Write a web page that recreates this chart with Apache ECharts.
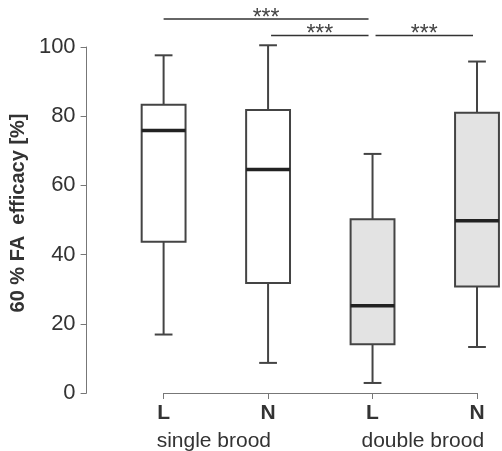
<!DOCTYPE html>
<html><head><meta charset="utf-8">
<script src="https://cdn.jsdelivr.net/npm/echarts@6/dist/echarts.min.js"></script>
<style>html,body{margin:0;padding:0;background:#fff}#c{width:502px;height:451px}</style>
</head><body><div id="c"></div>
<script>
var categories = ['L', 'N', 'L', 'N'];
var groups = ['single brood', 'double brood'];
var whiskerMin = [16.9, 8.7, 2.9, 13.3];
var q1 = [43.7, 31.8, 14.1, 30.8];
var median = [75.9, 64.6, 25.2, 49.8];
var q3 = [83.3, 81.8, 50.2, 81.0];
var whiskerMax = [97.6, 100.5, 69.1, 95.8];
var fills = ['#ffffff', '#ffffff', '#e3e3e3', '#e3e3e3'];
var yTicks = [0, 20, 40, 60, 80, 100];
var sigFrom = [0, 1, 2];
var sigTo = [2, 2, 3];
var sigLevel = [108.1, 103.3, 103.3];
var sigLabel = ['***', '***', '***'];

var chart = echarts.init(document.getElementById('c'));
var data = categories.map(function (c, i) {
  return [i, whiskerMin[i], q1[i], median[i], q3[i], whiskerMax[i]];
});
var stroke = '#444';
function renderItem(params, api) {
  var i = api.value(0);
  var band = api.size([1, 0])[0];
  var bw = band * 0.42, cw = band * 0.17;
  var pMin = api.coord([i, api.value(1)]);
  var pQ1 = api.coord([i, api.value(2)]);
  var pMed = api.coord([i, api.value(3)]);
  var pQ3 = api.coord([i, api.value(4)]);
  var pMax = api.coord([i, api.value(5)]);
  var x = pMed[0];
  var ls = {stroke: stroke, lineWidth: 2, fill: null};
  return {
    type: 'group',
    children: [
      {type: 'line', shape: {x1: x, y1: pQ3[1], x2: x, y2: pMax[1]}, style: ls},
      {type: 'line', shape: {x1: x - cw / 2, y1: pMax[1], x2: x + cw / 2, y2: pMax[1]}, style: ls},
      {type: 'line', shape: {x1: x, y1: pQ1[1], x2: x, y2: pMin[1]}, style: ls},
      {type: 'line', shape: {x1: x - cw / 2, y1: pMin[1], x2: x + cw / 2, y2: pMin[1]}, style: ls},
      {type: 'rect', shape: {x: x - bw / 2, y: pQ3[1], width: bw, height: pQ1[1] - pQ3[1]},
        style: {fill: fills[params.dataIndex], stroke: stroke, lineWidth: 2}},
      {type: 'line', shape: {x1: x - bw / 2, y1: pMed[1], x2: x + bw / 2, y2: pMed[1]},
        style: {stroke: '#222', lineWidth: 3.5}}
    ]
  };
}

chart.setOption({
  animation: false,
  backgroundColor: '#ffffff',
  grid: {left: 161, right: 25, top: 47, bottom: 58, containLabel: false},
  xAxis: {
    type: 'category', data: categories, boundaryGap: false,
    axisLine: {lineStyle: {color: '#777', width: 1}},
    axisTick: {length: 6, lineStyle: {color: '#777'}},
    axisLabel: {color: '#333', fontSize: 21, fontWeight: 'bold', fontFamily: 'Liberation Sans', margin: 10}
  },
  yAxis: {
    type: 'value', min: 0, max: 100, interval: 20, offset: 77,
    name: '60 % FA  efficacy [%]', nameLocation: 'middle', nameGap: 56, nameRotate: 90,
    nameTextStyle: {color: '#333', fontSize: 20, fontWeight: 'bold', fontFamily: 'Liberation Sans',
      padding: [0, 0, 0, 14]},
    axisLine: {show: true, lineStyle: {color: '#777', width: 1}},
    axisTick: {show: true, length: 6, lineStyle: {color: '#777'}},
    splitLine: {show: false},
    axisLabel: {color: '#333', fontSize: 22, fontFamily: 'Liberation Sans', margin: 11,
      formatter: function (v) { return yTicks.indexOf(v) >= 0 ? String(v) : ''; }}
  },
  series: [{type: 'custom', renderItem: renderItem, data: data, clip: false}]
});

var gfx = [];
var pxStart = [0, 3, 3], pxEnd = [-4, -4, -4];
for (var k = 0; k < sigFrom.length; k++) {
  var a = chart.convertToPixel({gridIndex: 0}, [sigFrom[k], sigLevel[k]]);
  var b = chart.convertToPixel({gridIndex: 0}, [sigTo[k], sigLevel[k]]);
  var x1 = a[0] + pxStart[k], x2 = b[0] + pxEnd[k];
  gfx.push({type: 'line', shape: {x1: x1, y1: a[1], x2: x2, y2: a[1]}, style: {stroke: '#333', lineWidth: 1.5}});
  gfx.push({type: 'text', x: (x1 + x2) / 2, y: a[1] - 12,
    style: {text: sigLabel[k], fill: '#444', font: '23px "Liberation Sans"', align: 'center', verticalAlign: 'top'}});
}
for (var g = 0; g < groups.length; g++) {
  var p1 = chart.convertToPixel({gridIndex: 0}, [g * 2, 0]);
  var p2 = chart.convertToPixel({gridIndex: 0}, [g * 2 + 1, 0]);
  gfx.push({type: 'text', x: (p1[0] + p2[0]) / 2 - 2, y: p1[1] + 48,
    style: {text: groups[g], fill: '#333', font: '21px "Liberation Sans"', align: 'center', verticalAlign: 'middle'}});
}
chart.setOption({graphic: gfx});
</script>
</body></html>
